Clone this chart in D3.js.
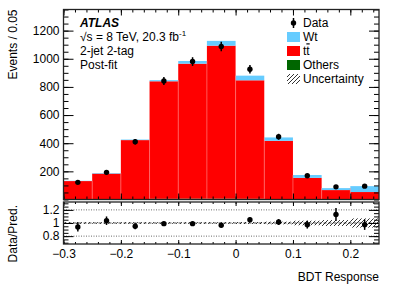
<!DOCTYPE html>
<html lang="en">
<head>
<meta charset="UTF-8">
<title>BDT Response post-fit</title>
<script src="https://d3js.org/d3.v7.min.js"></script>
<style>
  body { margin: 0; background: #fff; }
  svg text { font-family: "Liberation Sans", Arial, sans-serif; fill: #000; }
  .axis .domain { display: none; }
  .axis line { stroke: #000; stroke-width: 1; }
</style>
</head>
<body>
<div id="chart"></div>
<script>
// bins of width 0.05, lower edges
var binLow = [-0.3, -0.25, -0.2, -0.15, -0.1, -0.05, 0, 0.05, 0.1, 0.15, 0.2];
var binWidth = 0.05;

// stacked predictions (post-fit)
var others = [1, 1, 2, 5, 6, 6, 5, 2, 1, 1, 1];
var ttbar = [130, 183, 420, 835, 959, 1087, 842, 415, 153, 66, 52];
var wt = [2, 4, 4, 8, 19, 34, 33, 24, 20, 14, 42];

// data
var dataEvents = [122, 193, 410, 842, 980, 1087, 925, 446, 169, 90, 95];
var dataErr = [11, 14, 20, 29, 31, 33, 30, 21, 13, 9, 10];

// ratio pane
var ratio = [0.94, 1.035, 0.95, 0.99, 0.99, 0.965, 1.05, 1.015, 0.975, 1.13, 0.975];
var ratioErr = [0.07, 0.065, 0.045, 0.03, 0.03, 0.03, 0.035, 0.045, 0.06, 0.1, 0.08];
var uncRel = [0.012, 0.012, 0.012, 0.012, 0.012, 0.012, 0.015, 0.02, 0.035, 0.045, 0.07];

var xTicks = [-0.3, -0.2, -0.1, 0, 0.1, 0.2];
var yTicks = [200, 400, 600, 800, 1000, 1200];
var rTicks = [0.8, 1, 1.2];

var W = 399, H = 286;
var left = 63.5, right = 379;
var mainTop = 9.5, mainBot = 199.5;
var ratTop = 202, ratBot = 244;

var svg = d3.select("#chart").append("svg")
    .attr("width", W)
    .attr("height", H);

var defs = svg.append("defs");
var pat = defs.append("pattern")
    .attr("id", "hatch")
    .attr("patternUnits", "userSpaceOnUse")
    .attr("width", 4)
    .attr("height", 4);
pat.append("path")
    .attr("d", "M-1,1 l2,-2 M0,4 l4,-4 M3,5 l2,-2")
    .attr("stroke", "#000")
    .attr("stroke-width", 0.8);

var x = d3.scaleLinear().domain([-0.3, 0.25]).range([left, right]);
var y = d3.scaleLinear().domain([0, 1350]).range([mainBot, mainTop]);
var yr = d3.scaleLinear().domain([0.68, 1.32]).range([ratBot, ratTop]);

var colors = { others: "#006600", ttbar: "#ff0000", wt: "#66ccff" };

// stacked histogram
var rows = binLow.map(function (b, i) {
    return { low: b, others: others[i], ttbar: ttbar[i], wt: wt[i] };
});
var stack = d3.stack().keys(["others", "ttbar", "wt"])(rows);

svg.append("g")
    .selectAll("g")
    .data(stack)
    .enter().append("g")
    .attr("fill", function (d) { return colors[d.key]; })
    .selectAll("rect")
    .data(function (d) { return d; })
    .enter().append("rect")
    .attr("x", function (d) { return x(d.data.low); })
    .attr("width", function (d) { return x(d.data.low + binWidth) - x(d.data.low); })
    .attr("y", function (d) { return y(d[1]); })
    .attr("height", function (d) { return y(d[0]) - y(d[1]); });

// faint bin edges
svg.append("g")
    .selectAll("line")
    .data(binLow.slice(1))
    .enter().append("line")
    .attr("x1", function (d) { return x(d); })
    .attr("x2", function (d) { return x(d); })
    .attr("y1", mainBot)
    .attr("y2", function (d, i) {
        var a = others[i] + ttbar[i] + wt[i], b = others[i + 1] + ttbar[i + 1] + wt[i + 1];
        return y(Math.min(a, b));
    })
    .attr("stroke", "#ff8080")
    .attr("stroke-width", 0.6);

// data points
var pts = svg.append("g");
binLow.forEach(function (b, i) {
    var cx = x(b + binWidth / 2);
    pts.append("line")
        .attr("x1", cx).attr("x2", cx)
        .attr("y1", y(dataEvents[i] - dataErr[i]))
        .attr("y2", y(dataEvents[i] + dataErr[i]))
        .attr("stroke", "#000").attr("stroke-width", 1.5);
    pts.append("circle")
        .attr("cx", cx).attr("cy", y(dataEvents[i]))
        .attr("r", 2.7).attr("fill", "#000");
});

// ratio pane: reference lines
var refLines = [
    { v: 1.2, dash: "1,1.5", color: "#444" },
    { v: 0.8, dash: "1,1.5", color: "#444" },
    { v: 1, dash: "3,2", color: "#222" }
];
svg.append("g")
    .selectAll("line")
    .data(refLines)
    .enter().append("line")
    .attr("x1", left).attr("x2", right)
    .attr("y1", function (d) { return yr(d.v); })
    .attr("y2", function (d) { return yr(d.v); })
    .attr("stroke", function (d) { return d.color; })
    .attr("stroke-width", 0.8)
    .attr("stroke-dasharray", function (d) { return d.dash; });

// uncertainty band
svg.append("g")
    .selectAll("rect")
    .data(binLow)
    .enter().append("rect")
    .attr("x", function (d) { return x(d); })
    .attr("width", function (d) { return x(d + binWidth) - x(d); })
    .attr("y", function (d, i) { return yr(1 + uncRel[i]); })
    .attr("height", function (d, i) { return yr(1 - uncRel[i]) - yr(1 + uncRel[i]); })
    .attr("fill", "url(#hatch)");

var rpts = svg.append("g");
binLow.forEach(function (b, i) {
    var cx = x(b + binWidth / 2);
    rpts.append("line")
        .attr("x1", cx).attr("x2", cx)
        .attr("y1", yr(ratio[i] - ratioErr[i]))
        .attr("y2", yr(ratio[i] + ratioErr[i]))
        .attr("stroke", "#000").attr("stroke-width", 1.5);
    rpts.append("circle")
        .attr("cx", cx).attr("cy", yr(ratio[i]))
        .attr("r", 2.7).attr("fill", "#000");
});

// axes helper
function addAxis(axis, tx, ty, labels, fs) {
    var g = svg.append("g")
        .attr("class", "axis")
        .attr("transform", "translate(" + tx + "," + ty + ")")
        .call(axis);
    g.selectAll("text").attr("font-size", fs || 12).attr("font-family", null);
    if (!labels) g.selectAll("text").remove();
    return g;
}

var xMinor = d3.range(-0.3, 0.2501, 0.02);
var yMinor = d3.range(0, 1351, 50);
var rMinor = d3.range(0.7, 1.3201, 0.05);
var fmtX = function (d) { return Math.abs(d) < 1e-9 ? "0" : d3.format(".1f")(d); };
var fmtR = function (d) { return d === 1 ? "1" : d3.format(".1f")(d); };

// main pane
addAxis(d3.axisLeft(y).tickValues(yTicks).tickFormat(d3.format("d")).tickSize(-10).tickPadding(4), left, 0, true);
addAxis(d3.axisLeft(y).tickValues(yMinor).tickSize(-5), left, 0, false);
addAxis(d3.axisRight(y).tickValues(yTicks).tickSize(-10), right, 0, false);
addAxis(d3.axisRight(y).tickValues(yMinor).tickSize(-5), right, 0, false);
addAxis(d3.axisBottom(x).tickValues(xTicks).tickSize(-6), 0, mainBot, false);
addAxis(d3.axisBottom(x).tickValues(xMinor).tickSize(-3), 0, mainBot, false);
addAxis(d3.axisTop(x).tickValues(xTicks).tickSize(-6), 0, mainTop, false);
addAxis(d3.axisTop(x).tickValues(xMinor).tickSize(-3), 0, mainTop, false);

// ratio pane
addAxis(d3.axisLeft(yr).tickValues(rTicks).tickFormat(fmtR).tickSize(-10).tickPadding(4), left, 0, true);
addAxis(d3.axisLeft(yr).tickValues(rMinor).tickSize(-5), left, 0, false);
addAxis(d3.axisRight(yr).tickValues(rTicks).tickSize(-10), right, 0, false);
addAxis(d3.axisRight(yr).tickValues(rMinor).tickSize(-5), right, 0, false);
addAxis(d3.axisBottom(x).tickValues(xTicks).tickFormat(fmtX).tickSize(-4).tickPadding(5), 0, ratBot, true);
addAxis(d3.axisBottom(x).tickValues(xMinor).tickSize(-2), 0, ratBot, false);
addAxis(d3.axisTop(x).tickValues(xTicks).tickSize(-4), 0, ratTop, false);
addAxis(d3.axisTop(x).tickValues(xMinor).tickSize(-2), 0, ratTop, false);

// frames
[[mainTop, mainBot], [ratTop, ratBot]].forEach(function (p) {
    svg.append("rect")
        .attr("x", left).attr("y", p[0])
        .attr("width", right - left).attr("height", p[1] - p[0])
        .attr("fill", "none")
        .attr("stroke", "#222")
        .attr("stroke-width", 1.3);
});

// axis titles
svg.append("text")
    .attr("transform", "translate(17," + mainTop + ") rotate(-90)")
    .attr("text-anchor", "end")
    .attr("font-size", 12)
    .text("Events / 0.05");
svg.append("text")
    .attr("transform", "translate(17," + (ratTop + 3) + ") rotate(-90)")
    .attr("text-anchor", "end")
    .attr("font-size", 12)
    .text("Data/Pred.");
svg.append("text")
    .attr("x", right).attr("y", 281)
    .attr("text-anchor", "end")
    .attr("font-size", 12)
    .text("BDT Response");

// labels
var lab = svg.append("g").attr("font-size", 12);
lab.append("text").attr("x", 80).attr("y", 27)
    .attr("font-weight", "bold").attr("font-style", "italic")
    .text("ATLAS");
var s = lab.append("text").attr("x", 80).attr("y", 41);
s.append("tspan").text("\u221As = 8 TeV, 20.3 fb");
s.append("tspan").attr("font-size", 8).attr("dy", -5).text("-1");
lab.append("text").attr("x", 80).attr("y", 55).text("2-jet 2-tag");
lab.append("text").attr("x", 80).attr("y", 69).text("Post-fit");

// legend
var leg = svg.append("g").attr("font-size", 12);
var lx = 287, lw = 13, rowY = [23, 37, 51, 65, 79];
leg.append("line")
    .attr("x1", lx + lw / 2).attr("x2", lx + lw / 2)
    .attr("y1", rowY[0] - 5).attr("y2", rowY[0] + 5)
    .attr("stroke", "#000").attr("stroke-width", 1.5);
leg.append("circle").attr("cx", lx + lw / 2).attr("cy", rowY[0]).attr("r", 2.7);
[colors.wt, colors.ttbar, colors.others, "url(#hatch)"].forEach(function (c, i) {
    leg.append("rect")
        .attr("x", lx).attr("y", rowY[i + 1] - 5)
        .attr("width", lw).attr("height", 10)
        .attr("fill", c);
});
var names = ["Data", "Wt", null, "Others", "Uncertainty"];
names.forEach(function (n, i) {
    if (n) leg.append("text").attr("x", lx + 16).attr("y", rowY[i] + 4.3).text(n);
});
var tt = leg.append("text").attr("x", lx + 16).attr("y", rowY[2] + 4.3);
tt.append("tspan").text("t");
tt.append("tspan").style("text-decoration", "overline").text("t");
</script>
</body>
</html>
